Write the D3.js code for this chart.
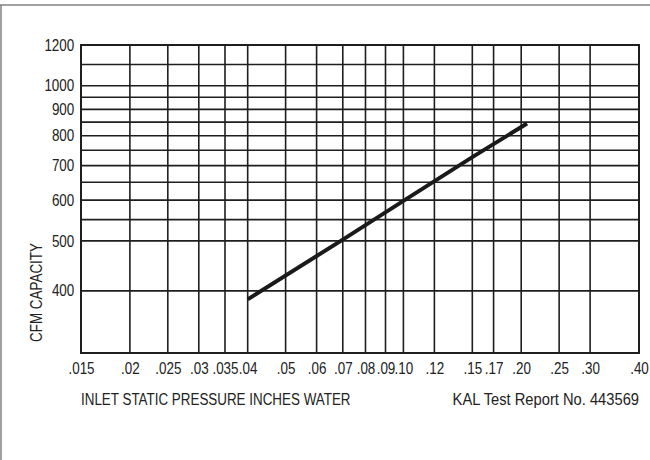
<!DOCTYPE html>
<html>
<head>
<meta charset="utf-8">
<script src="https://cdn.jsdelivr.net/npm/d3@7"></script>
<style>
  html, body { margin: 0; padding: 0; background: #fff; }
  svg { display: block; }
  text { font-family: "Liberation Sans", Arial, sans-serif; fill: #222; }
</style>
</head>
<body>
<svg id="chart" width="650" height="460"></svg>
<script>
// ---- data ----
const xTickValues = [0.015, 0.02, 0.025, 0.03, 0.035, 0.04, 0.05, 0.06, 0.07, 0.08, 0.09, 0.10, 0.12, 0.15, 0.17, 0.20, 0.25, 0.30, 0.40];
const xTickLabels = [".015", ".02", ".025", ".03", ".035", ".04", ".05", ".06", ".07", ".08", ".09", ".10", ".12", ".15", ".17", ".20", ".25", ".30", ".40"];
const yTickValues = [1200, 1000, 900, 800, 700, 600, 500, 400];
const yGridValues = [1100, 1000, 950, 900, 850, 800, 750, 700, 650, 600, 550, 500, 400];
const pressure = [0.04, 0.07, 0.10, 0.15, 0.207];
const cfm = [385, 503, 598, 727, 845];
const xTitle = "INLET STATIC PRESSURE INCHES WATER";
const yTitle = "CFM CAPACITY";
const note = "KAL Test Report No. 443569";

// ---- layout ----
const W = 650, H = 460;
const margin = { left: 81, right: 11, top: 45, bottom: 107 };
const condense = "scale(0.84,1)";
const svg = d3.select("#chart");

// outer frame (top & left edges visible)
svg.append("line").attr("x1", 0).attr("x2", W).attr("y1", 5).attr("y2", 5)
  .attr("stroke", "#808080").attr("stroke-width", 1.5);
svg.append("line").attr("x1", 1).attr("x2", 1).attr("y1", 5).attr("y2", H)
  .attr("stroke", "#808080").attr("stroke-width", 1.5);

const x = d3.scaleLog().domain([0.015, 0.40]).range([margin.left, W - margin.right]);
const y = d3.scaleLog().domain([303, 1200]).range([H - margin.bottom, margin.top]);

const grid = svg.append("g").attr("stroke", "#1e1e1e").attr("stroke-width", 1.6);
grid.selectAll("line.v").data(xTickValues).join("line").attr("class", "v")
  .attr("x1", d => x(d)).attr("x2", d => x(d))
  .attr("y1", y.range()[0]).attr("y2", y.range()[1]);
grid.selectAll("line.h").data(yGridValues).join("line").attr("class", "h")
  .attr("y1", d => y(d)).attr("y2", d => y(d))
  .attr("x1", x.range()[0]).attr("x2", x.range()[1]);

// plot border
svg.append("rect")
  .attr("x", x.range()[0]).attr("y", y.range()[1])
  .attr("width", x.range()[1] - x.range()[0]).attr("height", y.range()[0] - y.range()[1])
  .attr("fill", "none").attr("stroke", "#1e1e1e").attr("stroke-width", 2);

// axes (labels only)
const xAxis = d3.axisBottom(x).tickValues(xTickValues)
  .tickFormat((d, i) => xTickLabels[i]).tickSize(0).tickPadding(10);
const gx = svg.append("g").attr("transform", `translate(0,${y.range()[0]})`).call(xAxis);
gx.select(".domain").remove();
gx.attr("font-family", null).attr("font-size", null);
gx.selectAll("text").attr("font-size", 16).attr("fill", "#222").attr("transform", condense);

const yAxis = d3.axisLeft(y).tickValues(yTickValues)
  .tickFormat(d3.format("d")).tickSize(0).tickPadding(8);
const gy = svg.append("g").attr("transform", `translate(${x.range()[0]},0)`).call(yAxis);
gy.select(".domain").remove();
gy.attr("font-family", null).attr("font-size", null);
gy.selectAll("text").attr("font-size", 16).attr("fill", "#222").attr("transform", condense);

// curve
const pts = pressure.map((p, i) => [p, cfm[i]]);
svg.append("path").datum(pts)
  .attr("fill", "none").attr("stroke", "#1a1a1a").attr("stroke-width", 4)
  .attr("d", d3.line().x(d => x(d[0])).y(d => y(d[1])));

// titles
svg.append("text").attr("transform", "translate(81,405) scale(0.78,1)")
  .attr("font-size", 17.2).text(xTitle);
svg.append("text").attr("transform", "translate(639,405) scale(0.855,1)")
  .attr("text-anchor", "end").attr("font-size", 17.2).text(note);
svg.append("text")
  .attr("transform", "translate(42,243) rotate(-90) scale(0.84,1)")
  .attr("text-anchor", "end").attr("font-size", 16).text(yTitle);
</script>
</body>
</html>
